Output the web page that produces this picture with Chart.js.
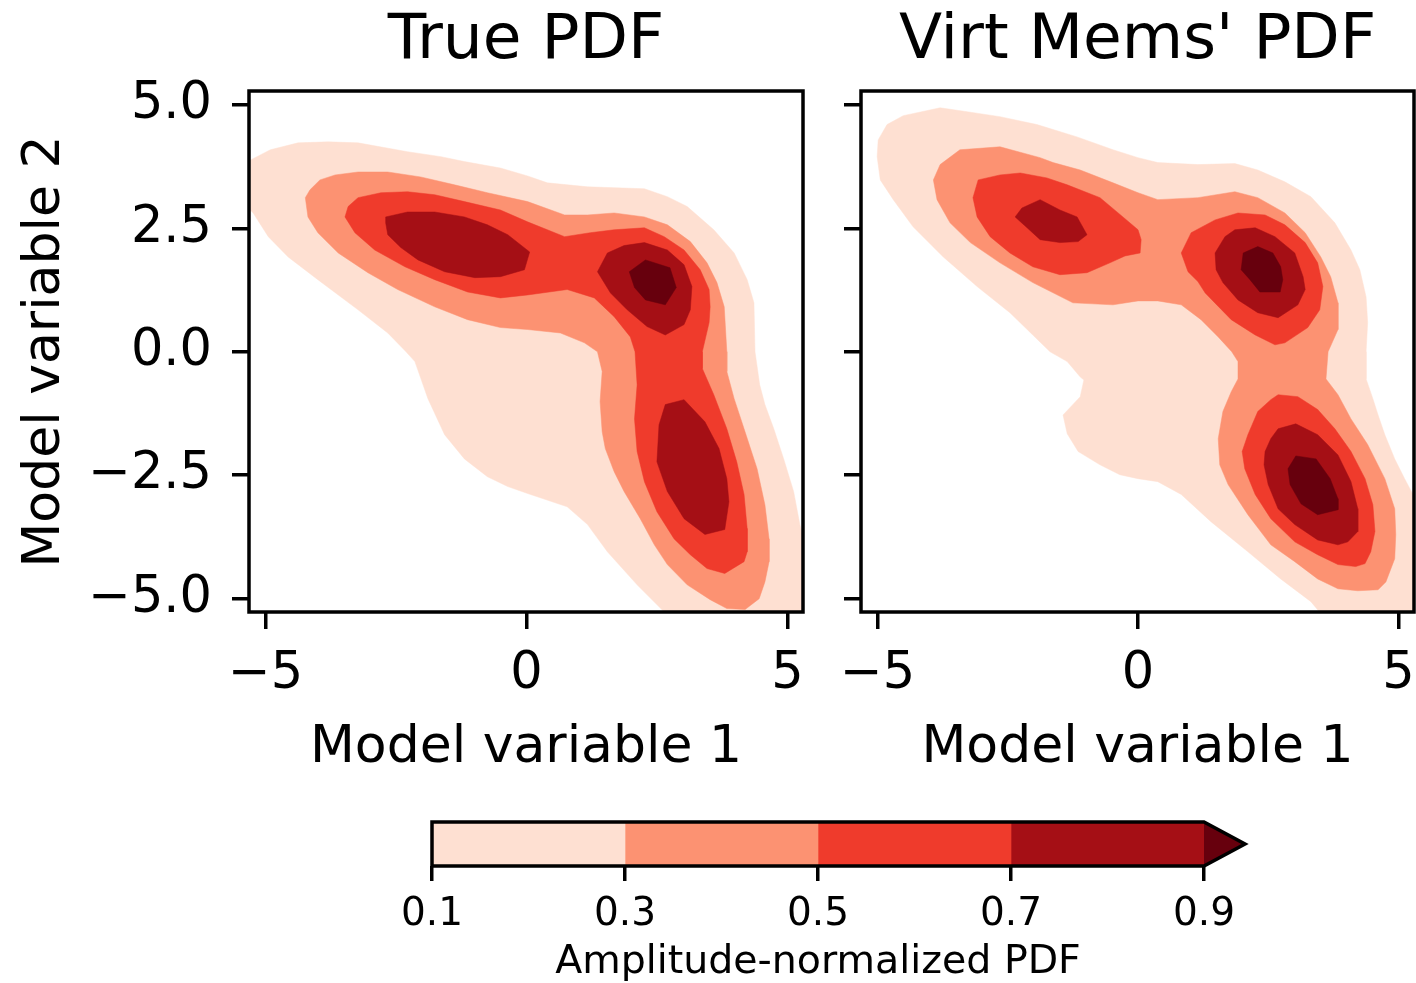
<!DOCTYPE html>
<html>
<head>
<meta charset="utf-8">
<script src="https://cdn.jsdelivr.net/npm/chart.js@4.4.1/dist/chart.umd.min.js"></script>
<style>
  body { margin: 0; background: #fff; width: 1416px; height: 983px; overflow: hidden; position: relative; }
  canvas { position: absolute; }
</style>
</head>
<body>
<canvas id="truePanel" width="830" height="790" style="left:0;top:0"></canvas>
<canvas id="virtPanel" width="640" height="790" style="left:800px;top:0"></canvas>
<canvas id="colorbar" width="920" height="193" style="left:380px;top:790px"></canvas>
<script>
// contour levels and Reds colours (last one is the "extend max" colour)
const levels = [0.1, 0.3, 0.5, 0.7, 0.9];
const bandColors = ['#fee0d2', '#fc9272', '#ef3b2c', '#a50f15', '#67000d'];
const extendLength = 0.0425;

const xTicks = [-5, 0, 5];
const yTicks = [-5, -2.5, 0, 2.5, 5];

// filled contour outlines, [x, y] in model-variable units
// True PDF
const trueBand1 = [[-5.45,3.89],[-5.28,3.89],[-4.91,4.09],[-4.38,4.23],[-3.80,4.25],[-3.23,4.23],[-2.28,4.05],[-1.64,3.95],[-1.19,3.85],[-0.50,3.72],[0.02,3.56],[0.40,3.42],[1.17,3.34],[2.26,3.30],[2.70,3.14],[3.08,2.94],[3.59,2.47],[3.98,2.00],[4.23,1.46],[4.36,0.99],[4.38,0.00],[4.47,-0.67],[4.57,-1.07],[4.74,-1.56],[4.93,-2.17],[5.12,-2.83],[5.24,-3.50],[5.41,-4.21],[5.45,-5.45],[2.83,-5.47],[2.12,-4.72],[1.55,-4.05],[1.17,-3.50],[0.78,-3.14],[0.02,-2.87],[-0.36,-2.73],[-0.75,-2.53],[-1.19,-2.17],[-1.57,-1.68],[-1.89,-0.95],[-2.14,-0.20],[-2.31,0.00],[-2.66,0.38],[-3.23,0.85],[-4.00,1.46],[-4.57,1.92],[-4.95,2.33],[-5.24,2.81],[-5.49,3.08]];
const trueBand2 = [[-4.24,3.12],[-4.15,3.28],[-3.96,3.48],[-3.67,3.58],[-3.23,3.64],[-2.66,3.64],[-2.03,3.54],[-1.38,3.38],[-0.75,3.22],[0.02,3.04],[0.73,2.77],[1.17,2.77],[1.68,2.81],[2.26,2.73],[2.70,2.57],[3.14,2.23],[3.46,1.80],[3.65,1.40],[3.79,0.91],[3.84,0.00],[3.84,-0.40],[3.98,-0.95],[4.17,-1.56],[4.42,-2.37],[4.57,-3.10],[4.65,-3.79],[4.65,-4.25],[4.57,-4.66],[4.46,-5.00],[4.19,-5.22],[3.84,-5.20],[3.52,-5.02],[3.08,-4.72],[2.70,-4.31],[2.45,-3.91],[2.18,-3.38],[1.87,-2.83],[1.68,-2.43],[1.51,-1.96],[1.45,-1.62],[1.41,-1.01],[1.45,-0.40],[1.36,0.00],[1.11,0.18],[0.65,0.38],[0.02,0.45],[-0.50,0.49],[-1.13,0.65],[-1.76,0.91],[-2.47,1.26],[-3.04,1.60],[-3.61,2.00],[-4.00,2.41],[-4.19,2.73]];
const trueBand3 = [[-3.48,2.73],[-3.42,2.94],[-3.23,3.12],[-2.79,3.22],[-2.28,3.24],[-1.76,3.18],[-1.19,3.04],[-0.50,2.87],[0.02,2.63],[0.73,2.33],[1.22,2.41],[1.68,2.47],[2.26,2.51],[2.64,2.33],[3.02,2.06],[3.33,1.66],[3.50,1.26],[3.52,0.91],[3.50,0.59],[3.37,0.00],[3.37,-0.34],[3.59,-0.87],[3.84,-1.56],[4.03,-2.23],[4.17,-2.89],[4.23,-3.58],[4.23,-4.05],[4.17,-4.25],[3.80,-4.49],[3.46,-4.39],[3.14,-4.11],[2.83,-3.79],[2.50,-3.24],[2.26,-2.63],[2.12,-2.02],[2.07,-1.36],[2.12,-0.67],[2.08,0.00],[1.99,0.30],[1.68,0.71],[1.30,1.09],[0.78,1.26],[0.02,1.15],[-0.50,1.09],[-1.13,1.21],[-1.76,1.46],[-2.33,1.72],[-2.91,2.06],[-3.29,2.41]];
const trueBand4a = [[-2.70,2.73],[-2.28,2.83],[-1.76,2.83],[-1.19,2.73],[-0.75,2.57],[-0.36,2.37],[0.06,2.02],[-0.04,1.66],[-0.50,1.52],[-0.99,1.50],[-1.57,1.62],[-2.08,1.86],[-2.41,2.11],[-2.66,2.37],[-2.70,2.61]];
const trueBand4b = [[1.36,1.62],[1.55,2.00],[1.87,2.15],[2.26,2.21],[2.70,2.06],[3.02,1.76],[3.17,1.32],[3.14,0.85],[3.02,0.55],[2.66,0.34],[2.31,0.51],[1.93,0.85],[1.61,1.19]];
const trueBand4c = [[2.66,-1.07],[3.02,-0.97],[3.42,-1.42],[3.69,-1.96],[3.84,-2.57],[3.88,-3.04],[3.80,-3.60],[3.42,-3.70],[3.02,-3.38],[2.70,-2.83],[2.50,-2.23],[2.54,-1.48]];
const trueBand5 = [[1.97,1.62],[2.28,1.86],[2.75,1.70],[2.87,1.30],[2.66,0.95],[2.28,1.05],[2.07,1.30]];

// Virtual members' PDF
const virtBand1 = [[-5.01,3.95],[-4.99,4.29],[-4.82,4.60],[-4.51,4.78],[-3.80,4.94],[-3.28,4.86],[-2.65,4.76],[-1.94,4.60],[-1.17,4.35],[-0.48,4.09],[0.00,3.93],[0.38,3.83],[1.15,3.79],[1.86,3.81],[2.30,3.68],[2.82,3.44],[3.32,3.14],[3.78,2.61],[4.09,2.06],[4.26,1.66],[4.38,1.11],[4.41,0.59],[4.38,0.00],[4.38,-0.55],[4.51,-0.95],[4.61,-1.28],[4.74,-1.68],[4.93,-2.17],[5.12,-2.57],[5.28,-2.89],[5.51,-3.40],[5.51,-5.53],[3.69,-5.53],[3.32,-5.06],[2.74,-4.60],[2.11,-4.05],[1.40,-3.44],[0.83,-2.89],[0.38,-2.63],[0.00,-2.57],[-0.35,-2.49],[-0.73,-2.29],[-1.15,-2.02],[-1.36,-1.66],[-1.44,-1.28],[-1.11,-0.91],[-1.04,-0.57],[-1.11,-0.51],[-1.36,-0.20],[-1.69,0.00],[-2.46,0.79],[-3.09,1.32],[-3.74,1.92],[-4.32,2.53],[-4.70,3.08],[-4.95,3.48]];
const virtBand2 = [[-3.93,3.48],[-3.80,3.79],[-3.42,4.09],[-2.65,4.15],[-1.88,3.93],[-1.63,3.83],[-1.11,3.68],[-0.48,3.42],[0.00,3.22],[0.38,3.08],[1.15,3.12],[1.86,3.24],[2.30,3.12],[2.82,2.81],[3.21,2.41],[3.51,1.92],[3.70,1.52],[3.84,0.99],[3.84,0.45],[3.65,0.00],[3.61,-0.55],[3.84,-0.87],[4.09,-1.36],[4.41,-1.88],[4.74,-2.57],[4.93,-3.18],[4.95,-3.70],[4.93,-4.19],[4.76,-4.66],[4.61,-4.82],[4.22,-4.84],[3.84,-4.80],[3.45,-4.60],[3.01,-4.25],[2.55,-3.91],[2.11,-3.30],[1.73,-2.69],[1.57,-2.29],[1.54,-1.76],[1.63,-1.21],[1.79,-0.81],[1.92,-0.55],[1.92,-0.20],[1.80,0.00],[1.54,0.30],[1.21,0.65],[0.83,0.95],[0.38,1.03],[0.00,1.03],[-0.48,0.95],[-1.25,0.99],[-2.02,1.40],[-2.65,1.80],[-3.22,2.21],[-3.61,2.61],[-3.86,3.08]];
const virtBand3a = [[-3.17,3.12],[-3.07,3.48],[-2.65,3.58],[-2.26,3.62],[-1.75,3.52],[-1.36,3.38],[-0.73,3.12],[-0.29,2.73],[0.00,2.47],[0.06,2.27],[0.04,2.00],[-0.25,1.94],[-0.54,1.80],[-0.98,1.60],[-1.50,1.56],[-2.02,1.72],[-2.46,2.00],[-2.84,2.33],[-3.09,2.73]];
const virtBand3b = [[0.83,2.00],[1.02,2.41],[1.48,2.67],[1.92,2.81],[2.44,2.77],[2.82,2.57],[3.21,2.21],[3.45,1.80],[3.55,1.32],[3.49,0.85],[3.26,0.49],[2.82,0.18],[2.63,0.14],[2.25,0.34],[1.79,0.65],[1.29,1.19],[1.15,1.42],[0.96,1.62]];
const virtBand3c = [[2.69,-0.87],[3.07,-0.91],[3.45,-1.17],[3.78,-1.56],[4.09,-2.02],[4.36,-2.57],[4.51,-3.10],[4.55,-3.64],[4.47,-4.05],[4.36,-4.29],[4.18,-4.35],[3.84,-4.31],[3.45,-4.11],[3.01,-3.85],[2.55,-3.38],[2.25,-2.89],[2.05,-2.37],[2.00,-2.02],[2.11,-1.68],[2.30,-1.21],[2.55,-0.97]];
const virtBand4a = [[-2.36,2.73],[-2.23,2.91],[-1.88,3.08],[-1.50,2.87],[-1.17,2.73],[-0.98,2.37],[-1.15,2.23],[-1.50,2.21],[-1.88,2.27],[-2.13,2.51]];
const virtBand4b = [[1.48,2.00],[1.67,2.33],[1.86,2.47],[2.25,2.51],[2.63,2.33],[3.01,2.00],[3.17,1.52],[3.21,1.26],[3.07,0.95],[2.69,0.69],[2.30,0.79],[1.92,1.05],[1.63,1.40],[1.50,1.66]];
const virtBand4c = [[2.44,-2.02],[2.55,-1.76],[2.69,-1.56],[3.03,-1.46],[3.45,-1.68],[3.84,-2.09],[4.09,-2.63],[4.22,-3.18],[4.22,-3.64],[4.03,-3.85],[3.84,-3.91],[3.45,-3.81],[3.01,-3.50],[2.69,-3.18],[2.50,-2.69],[2.42,-2.29]];
const virtBand5a = [[2.02,2.00],[2.30,2.13],[2.59,2.00],[2.74,1.72],[2.78,1.46],[2.73,1.21],[2.34,1.21],[2.15,1.46],[1.98,1.66]];
const virtBand5b = [[2.88,-2.37],[3.03,-2.11],[3.42,-2.17],[3.69,-2.57],[3.84,-2.98],[3.84,-3.20],[3.45,-3.30],[3.13,-3.08],[2.92,-2.69]];

const trueBands = [[trueBand1], [trueBand2], [trueBand3], [trueBand4a, trueBand4b, trueBand4c], [trueBand5]];
const virtBands = [[virtBand1], [virtBand2], [virtBand3a, virtBand3b, virtBand3c], [virtBand4a, virtBand4b, virtBand4c], [virtBand5a, virtBand5b]];

Chart.defaults.font.family = "'DejaVu Sans'";
Chart.defaults.color = '#000';

const TICK_FONT = 51;
const LABEL_FONT = 52;

// box around the plotting area
const framePlugin = {
  id: 'frame',
  afterDatasetsDraw(chart) {
    const {ctx, chartArea: a} = chart;
    ctx.save();
    ctx.lineWidth = 3.5;
    ctx.strokeStyle = '#000';
    ctx.strokeRect(a.left, a.top, a.right - a.left, a.bottom - a.top);
    ctx.restore();
  }
};

function bandDatasets(bands) {
  const sets = [];
  bands.forEach((polys, k) => {
    polys.forEach(poly => {
      const pts = poly.map(([x, y]) => ({x, y}));
      pts.push(pts[0]);
      sets.push({
        data: pts,
        fill: 'shape',
        backgroundColor: bandColors[k],
        borderColor: bandColors[k],
        borderWidth: 0.5,
        pointRadius: 0,
        tension: 0,
        order: 10 - k
      });
    });
  });
  return sets;
}

function fmt(v) {
  return String(v).replace('-', '\u2212');
}

function makePanel(id, title, bands, withYLabels, yWidth, padRight) {
  return new Chart(document.getElementById(id), {
    type: 'line',
    data: { datasets: bandDatasets(bands) },
    plugins: [framePlugin],
    options: {
      responsive: false,
      animation: false,
      events: [],
      layout: { padding: { left: 0, right: padRight, top: 0, bottom: 0 } },
      plugins: {
        legend: { display: false },
        tooltip: { enabled: false },
        title: {
          display: true,
          text: title,
          fullSize: false,
          color: '#000',
          font: { size: 63, weight: 'normal', lineHeight: 1 },
          padding: { top: 10.5, bottom: 17.5 }
        }
      },
      scales: {
        x: {
          type: 'linear',
          min: -5.32,
          max: 5.3,
          afterBuildTicks: s => { s.ticks = xTicks.map(v => ({value: v})); },
          afterFit: s => { s.height = 178; },
          grid: { drawOnChartArea: false, drawTicks: true, tickLength: 17, lineWidth: 3.5, color: '#000' },
          border: { display: false },
          ticks: { font: { size: TICK_FONT, lineHeight: 1 }, padding: 20.5, maxRotation: 0, autoSkip: false, callback: v => fmt(v) },
          title: { display: true, text: 'Model variable 1', font: { size: LABEL_FONT, lineHeight: 1 }, padding: { top: 0, bottom: 16 } }
        },
        y: {
          type: 'linear',
          min: -5.27,
          max: 5.28,
          afterBuildTicks: s => { s.ticks = yTicks.map(v => ({value: v})); },
          afterFit: s => { s.width = yWidth; },
          grid: { drawOnChartArea: false, drawTicks: true, tickLength: 17, lineWidth: 3.5, color: '#000' },
          border: { display: false },
          ticks: { display: withYLabels, font: { size: TICK_FONT, lineHeight: 1 }, padding: 20, autoSkip: false, callback: v => fmt(v.toFixed(1)) },
          title: { display: withYLabels, text: 'Model variable 2', font: { size: LABEL_FONT, lineHeight: 1 }, padding: { top: 19, bottom: 0 } }
        }
      }
    }
  });
}

makePanel('truePanel', 'True PDF', trueBands, true, 249, 27);
makePanel('virtPanel', "Virt Mems' PDF", virtBands, false, 61, 26);

// colour bar with a triangular extension for values above the top level
const extendPlugin = {
  id: 'extendArrow',
  afterDatasetsDraw(chart) {
    const {ctx, chartArea: a, scales: {x}} = chart;
    const top = levels[levels.length - 1];
    const x0 = x.getPixelForValue(top);
    const tip = x.getPixelForValue(top + extendLength);
    const mid = (a.top + a.bottom) / 2;
    ctx.save();
    ctx.fillStyle = bandColors[bandColors.length - 1];
    ctx.beginPath();
    ctx.moveTo(x0, a.top);
    ctx.lineTo(tip, mid);
    ctx.lineTo(x0, a.bottom);
    ctx.closePath();
    ctx.fill();
    ctx.beginPath();
    ctx.moveTo(a.left, a.top);
    ctx.lineTo(x0, a.top);
    ctx.lineTo(tip, mid);
    ctx.lineTo(x0, a.bottom);
    ctx.lineTo(a.left, a.bottom);
    ctx.closePath();
    ctx.lineWidth = 3.5;
    ctx.strokeStyle = '#000';
    ctx.stroke();
    ctx.restore();
  }
};

new Chart(document.getElementById('colorbar'), {
  type: 'bar',
  data: {
    labels: [''],
    datasets: levels.slice(0, -1).map((lo, i) => ({
      data: [[lo, levels[i + 1]]],
      backgroundColor: bandColors[i],
      borderWidth: 0,
      grouped: false,
      barPercentage: 1,
      categoryPercentage: 1
    }))
  },
  plugins: [extendPlugin],
  options: {
    indexAxis: 'y',
    responsive: false,
    animation: false,
    events: [],
    layout: { padding: { left: 52, right: 96, top: 32, bottom: 0 } },
    plugins: { legend: { display: false }, tooltip: { enabled: false } },
    scales: {
      y: { display: false },
      x: {
        type: 'linear',
        min: levels[0],
        max: levels[levels.length - 1],
        afterBuildTicks: s => { s.ticks = levels.map(v => ({value: v})); },
        afterFit: s => { s.height = 117; },
        grid: { drawOnChartArea: false, drawTicks: true, tickLength: 15, lineWidth: 3.5, color: '#000' },
        border: { display: false },
        ticks: { font: { size: 39, lineHeight: 1 }, padding: 14, maxRotation: 0, autoSkip: false, callback: v => v.toFixed(1) },
        title: { display: true, text: 'Amplitude-normalized PDF', font: { size: 39.5, lineHeight: 1 }, padding: { top: 0, bottom: 1 } }
      }
    }
  }
});
</script>
</body>
</html>
